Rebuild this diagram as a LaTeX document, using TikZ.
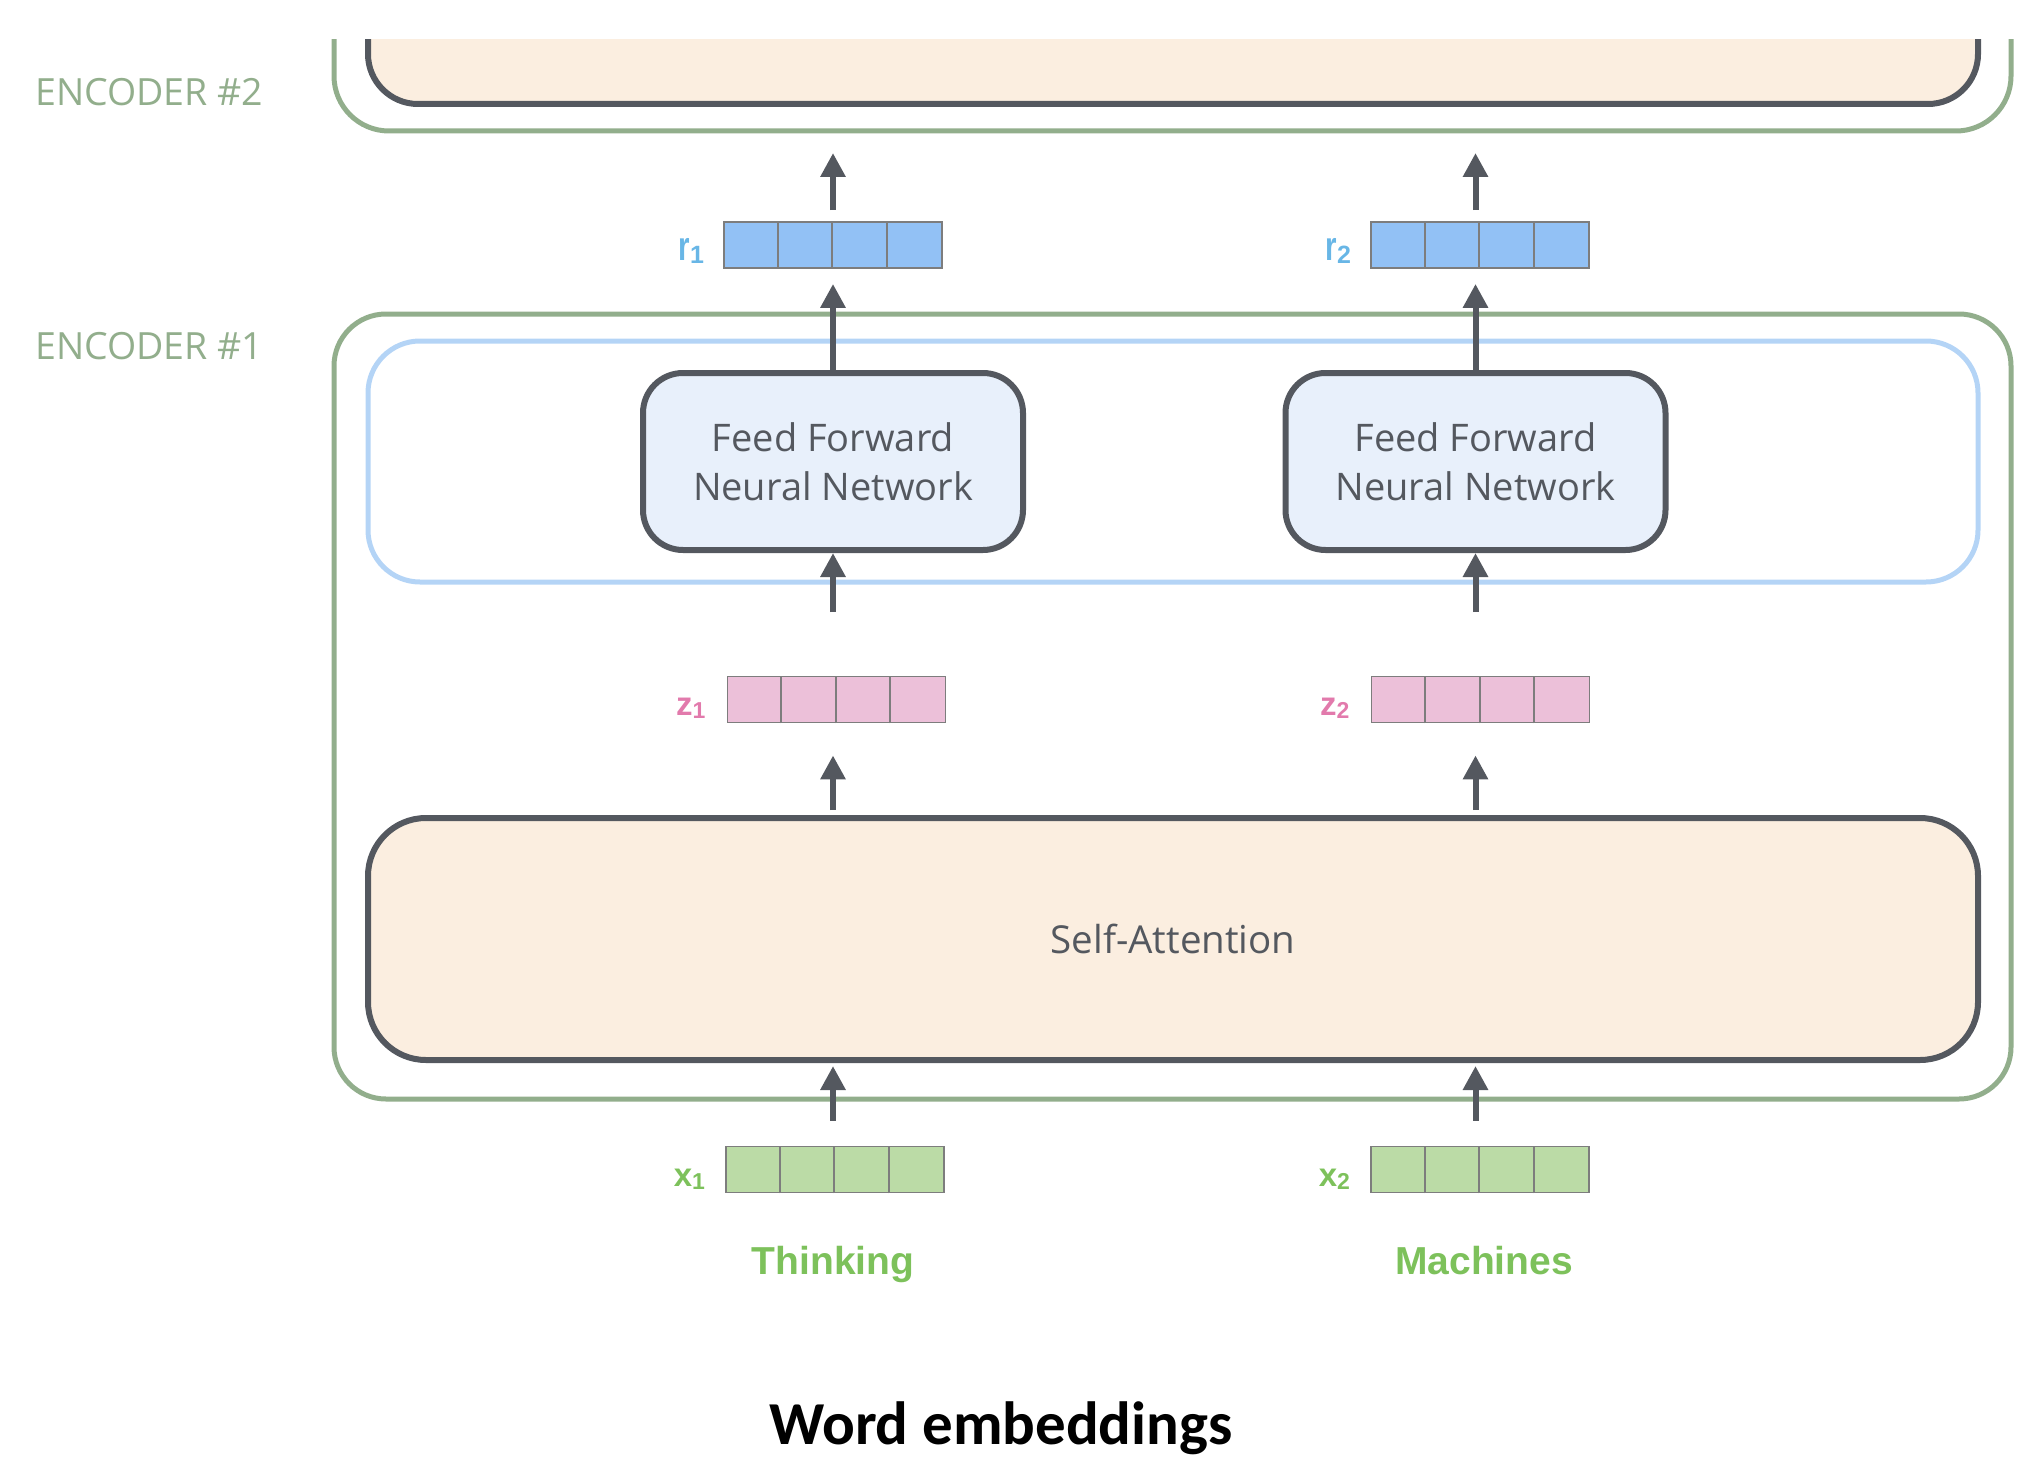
\documentclass[tikz,border=0pt]{standalone}
\usepackage{fontspec}
\setmainfont{Open Sans}
\newfontfamily\labfont{Liberation Sans}
\newfontfamily\carlitofont{Carlito}
\usetikzlibrary{arrows.meta}
\definecolor{encgreen}{RGB}{146,174,140}
\definecolor{ffblue}{RGB}{180,212,246}
\definecolor{darkc}{RGB}{84,88,95}
\definecolor{peach}{RGB}{251,238,224}
\definecolor{fffill}{RGB}{232,240,251}
\definecolor{rfill}{RGB}{146,193,245}
\definecolor{rlab}{RGB}{104,182,230}
\definecolor{zfill}{RGB}{236,192,217}
\definecolor{zlab}{RGB}{226,122,172}
\definecolor{xfill}{RGB}{187,219,166}
\definecolor{xlab}{RGB}{125,193,91}
\definecolor{cellc}{RGB}{125,125,125}
\newcommand\cellvec[4]{%
  \node[vecbox, fill=#4] (#1) at (#2,#3) {};
  \foreach \k in {1,2,3}
    \draw[cellline] ([xshift=\k*54.5pt]#1.south west) -- ([xshift=\k*54.5pt]#1.north west);
}
\newcommand\veclab[2]{{\fontsize{33}{33}\selectfont #1}{\raisebox{-3pt}{\fontsize{23}{23}\selectfont #2}}}
\newcommand\rlabel[1]{\scalebox{0.72}[1]{\fontsize{41}{41}\selectfont r}{\raisebox{-3pt}{\fontsize{25}{25}\selectfont #1}}}
\begin{document}
\begin{tikzpicture}[x=1pt,y=-1pt,
  encbox/.style={draw=encgreen, line width=5pt, rounded corners=52pt, inner sep=0pt},
  bluebox/.style={draw=ffblue, line width=5pt, rounded corners=52pt, inner sep=0pt},
  ffnbox/.style={draw=darkc, fill=fffill, line width=6pt, rounded corners=40pt, inner sep=0pt,
    minimum width=380pt, minimum height=177pt, align=center, text=darkc,
    font=\fontsize{38}{49}\selectfont},
  sabox/.style={draw=darkc, fill=peach, line width=6pt, rounded corners=58pt, inner sep=0pt,
    minimum width=1610pt, minimum height=242pt, text=darkc, font=\fontsize{38.5}{44}\selectfont},
  vecbox/.style={draw=cellc, line width=1.8pt, inner sep=0pt, minimum width=218pt, minimum height=46pt},
  cellline/.style={draw=cellc, line width=1.8pt},
  arr/.style={draw=darkc, line width=6pt, -{Triangle[width=24pt,length=24pt]}},
  enclab/.style={text=encgreen, font=\fontsize{37.5}{40}\selectfont, anchor=west, inner sep=0pt},
  veclabel/.style={font=\labfont\bfseries, anchor=base east, inner sep=0pt},
  word/.style={text=xlab, font=\labfont\bfseries\fontsize{39}{40}\selectfont, anchor=base, inner sep=0pt}
]
\useasboundingbox (0,0) rectangle (2032,1474);
% Encoder #2 (clipped at top)
\begin{scope}
  \clip (0,40) rectangle (2032,1474);
  \draw[encgreen, line width=5pt, rounded corners=55pt] (334,-100) rectangle (2011,131);
  \draw[darkc, fill=peach, line width=6pt, rounded corners=50pt] (368,-100) rectangle (1978,104);
\end{scope}
\node[enclab] (e2lab) at (35,92) {ENCODER \#2};
\node[enclab] (e1lab) at (35,346) {ENCODER \#1};
% Encoder #1
\node[encbox, minimum width=1677pt, minimum height=785pt] (enc1) at (1172.5,706.5) {};
\node[bluebox, minimum width=1610pt, minimum height=241pt] (ffl) at (1173,461.5) {};
\node[ffnbox] (f1) at (833,461.5) {Feed Forward\\Neural Network};
\node[ffnbox] (f2) at (1475.5,461.5) {Feed Forward\\Neural Network};
\node[sabox] (sa) at (1173,939) {Self-Attention};
% vectors
\cellvec{r1}{833}{245}{rfill}
\cellvec{r2}{1480}{245}{rfill}
\cellvec{z1}{836.5}{699.5}{zfill}
\cellvec{z2}{1480.5}{699.5}{zfill}
\cellvec{x1}{835}{1169.5}{xfill}
\cellvec{x2}{1480}{1169.5}{xfill}
\node[veclabel, text=rlab] (r1l) at ([shift={(-19,-8)}]r1.south west) {\rlabel{1}};
\node[veclabel, text=rlab] (r2l) at ([shift={(-19,-8)}]r2.south west) {\rlabel{2}};
\node[veclabel, text=zlab] (z1l) at ([shift={(-21,-8)}]z1.south west) {\veclab{z}{1}};
\node[veclabel, text=zlab] (z2l) at ([shift={(-21,-8)}]z2.south west) {\veclab{z}{2}};
\node[veclabel, text=xlab] (x1l) at ([shift={(-20,-7)}]x1.south west) {\veclab{x}{1}};
\node[veclabel, text=xlab] (x2l) at ([shift={(-20,-7)}]x2.south west) {\veclab{x}{2}};
% words
\node[word] (w1) at (833,1274) {Thinking};
\node[word] (w2) at (1484,1274) {Machines};
\node[font=\carlitofont\bfseries\fontsize{61}{64}\selectfont, anchor=base, inner sep=0pt] (cap) at (1001,1444) {Word embeddings};
% arrows
\coordinate (t1) at (833,153);
\coordinate (t2) at (1475.5,153);
\coordinate (s1) at (833,612);
\coordinate (s2) at (1475.5,612);
\draw[arr] ([yshift=11pt]r1.north -| f1.north) -- (t1);
\draw[arr] ([yshift=11pt]r2.north -| f2.north) -- (t2);
\draw[arr] (f1.north) -- ([yshift=-15pt]r1.south -| f1.north);
\draw[arr] (f2.north) -- ([yshift=-15pt]r2.south -| f2.north);
\draw[arr] (s1) -- (f1.south);
\draw[arr] (s2) -- (f2.south);
\draw[arr] ([yshift=5pt]sa.north -| f1.south) -- ([yshift=-32pt]z1.south -| f1.south);
\draw[arr] ([yshift=5pt]sa.north -| f2.south) -- ([yshift=-32pt]z2.south -| f2.south);
\draw[arr] ([yshift=25pt]x1.north -| f1.south) -- ([yshift=-3pt]sa.south -| f1.south);
\draw[arr] ([yshift=25pt]x2.north -| f2.south) -- ([yshift=-3pt]sa.south -| f2.south);
\end{tikzpicture}
\end{document}
